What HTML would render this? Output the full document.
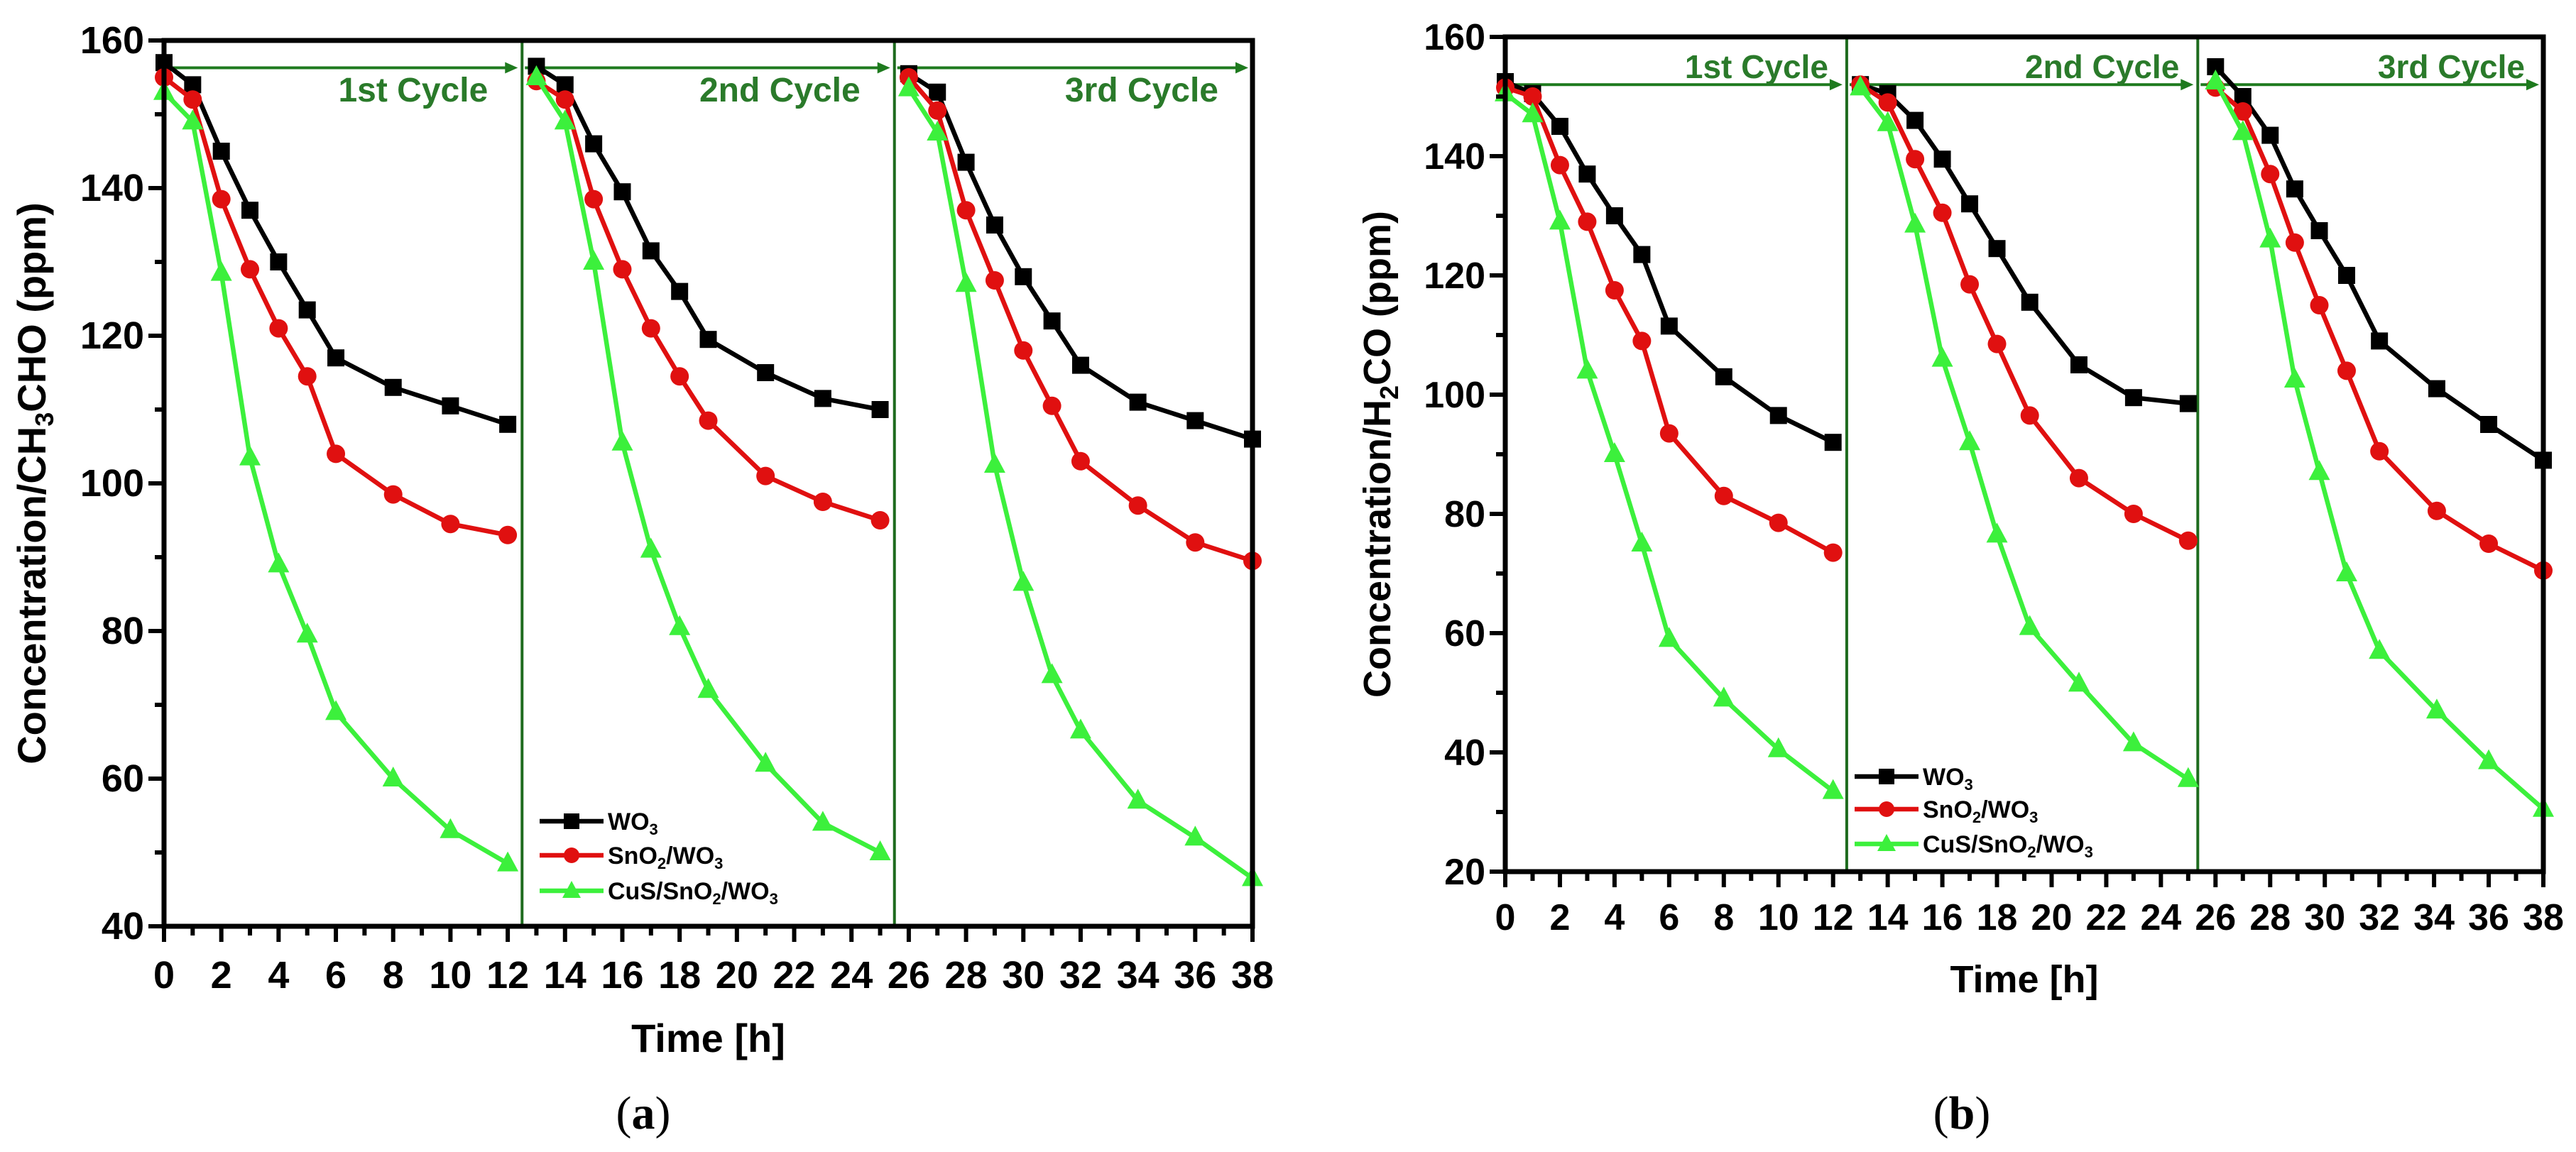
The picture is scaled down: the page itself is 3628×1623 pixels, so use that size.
<!DOCTYPE html>
<html><head><meta charset="utf-8">
<style>
html,body{margin:0;padding:0;background:#fff;}
svg{display:block;font-family:"Liberation Sans",Arial,sans-serif;}
</style></head>
<body>
<svg id="fig" width="3628" height="1623" viewBox="0 0 3628 1623" xmlns="http://www.w3.org/2000/svg"></svg>
<script>
// ---- data ----
const cycle1TimesA = [0,1,2,3,4,5,6,8,10,12];
const cycle2TimesA = [13,14,15,16,17,18,19,21,23,25];
const cycle3TimesA = [26,27,28,29,30,31,32,34,36,38];
const wo3A = [157,154,145,137,130,123.5,117,113,110.5,108, 156.5,154,146,139.5,131.5,126,119.5,115,111.5,110, 155.5,153,143.5,135,128,122,116,111,108.5,106];
const sno2A = [155,152,138.5,129,121,114.5,104,98.5,94.5,93, 154.5,152,138.5,129,121,114.5,108.5,101,97.5,95, 155,150.5,137,127.5,118,110.5,103,97,92,89.5];
const cusA = [153,149,128.5,103.5,89,79.5,69,60,53,48.5, 155,149,130,105.5,91,80.5,72,62,54,50, 153.5,147.5,127,102.5,86.5,74,66.5,57,52,46.5];

const cycle1TimesB = [0,1,2,3,4,5,6,8,10,12];
const cycle2TimesB = [13,14,15,16,17,18,19.2,21,23,25];
const cycle3TimesB = [26,27,28,28.9,29.8,30.8,32,34.1,36,38];
const wo3B = [152.5,150.5,145,137,130,123.5,111.5,103,96.5,92, 152,150.5,146,139.5,132,124.5,115.5,105,99.5,98.5, 155,150,143.5,134.5,127.5,120,109,101,95,89];
const sno2B = [151.5,150,138.5,129,117.5,109,93.5,83,78.5,73.5, 152,149,139.5,130.5,118.5,108.5,96.5,86,80,75.5, 151.5,147.5,137,125.5,115,104,90.5,80.5,75,70.5];
const cusB = [150.5,147,129,104,90,75,59,49,40.5,33.5, 151.5,145.5,128.5,106,92,76.5,61,51.5,41.5,35.5, 152.5,144,126,102.5,87,70,57,47,38.5,30.5];

const xTicks = [0,2,4,6,8,10,12,14,16,18,20,22,24,26,28,30,32,34,36,38];
const yTicksA = [40,60,80,100,120,140,160];
const yTicksB = [20,40,60,80,100,120,140,160];
const cycleLabels = ["1st Cycle","2nd Cycle","3rd Cycle"];
const dividersA = [12.5,25.5];
const dividersB = [12.5,25.35];
const arrowLevelA = 156.3;
const arrowLevelB = 152;

const NS="http://www.w3.org/2000/svg";
const svg=document.getElementById('fig');
function mk(tag,attrs,parent){const e=document.createElementNS(NS,tag);for(const k in attrs)e.setAttribute(k,attrs[k]);(parent||svg).appendChild(e);return e;}

function drawPanel(cfg){
  const g=mk('g',{});
  
  
  const X=v=>cfg.x0+(v-0)*(cfg.x1-cfg.x0)/38;
  const Y=v=>cfg.y1-(v-cfg.ymin)*(cfg.y1-cfg.y0)/(cfg.ymax-cfg.ymin);
  cfg.dividers.forEach((d,i)=>{
    const l=mk('line',{x1:X(d),x2:X(d),y1:cfg.y0,y2:cfg.y1,stroke:'#1e6b1e','stroke-width':4},g);
    
    
  });
  const bounds=[0,cfg.dividers[0],cfg.dividers[1],38];
  for(let i=0;i<3;i++){
    const xa=X(bounds[i])+4, xb=X(bounds[i+1])-6, ya=Y(cfg.arrow);
    const l=mk('line',{x1:xa,x2:xb-10,y1:ya,y2:ya,stroke:'#1e7a1e','stroke-width':4},g);
    
    
    const h=mk('polygon',{points:`${xb},${ya} ${xb-18},${ya-8} ${xb-18},${ya+8}`,fill:'#1e7a1e'},g);
    
    
    const t=mk('text',{x:X(bounds[i+1])-cfg.labelInset,y:cfg.labelY,'text-anchor':'end','font-size':cfg.labelSize,'font-weight':'bold',fill:'#2a7a2a'},g);
    t.textContent=cycleLabels[i];
    
    
  }
  const times=cfg.t1.concat(cfg.t2,cfg.t3);
  const series=[{v:cfg.wo3,c:'#000',m:'sq',n:'wo3'},{v:cfg.sno2,c:'#e01010',m:'ci',n:'sno2-wo3'},{v:cfg.cus,c:'#3cf03c',m:'tr',n:'cus-sno2-wo3'}];
  series.forEach(s=>{
    for(let c=0;c<3;c++){
      const pts=[];
      for(let k=c*10;k<c*10+10;k++)pts.push(X(times[k])+','+Y(s.v[k]));
      const pl=mk('polyline',{points:pts.join(' '),fill:'none',stroke:s.c,'stroke-width':6.5,'stroke-linejoin':'round'},g);
      
      
    }
    for(let k=0;k<times.length;k++){
      const px=X(times[k]),py=Y(s.v[k]);let e;
      if(s.m==='sq')e=mk('rect',{x:px-12,y:py-12,width:24,height:24,fill:s.c},g);
      else if(s.m==='ci')e=mk('circle',{cx:px,cy:py,r:13,fill:s.c},g);
      else e=mk('polygon',{points:`${px},${py-17} ${px-15},${py+11} ${px+15},${py+11}`,fill:s.c},g);
      
      
    }
  });
  const fr=mk('rect',{x:cfg.x0,y:cfg.y0,width:cfg.x1-cfg.x0,height:cfg.y1-cfg.y0,fill:'none',stroke:'#000','stroke-width':7},g);
  
  
  for(let v=0;v<=38;v++){
    const major=v%2===0;
    const l=mk('line',{x1:X(v),x2:X(v),y1:cfg.y1,y2:cfg.y1+(major?22:13),stroke:'#000','stroke-width':6},g);
    
    
  }
  xTicks.forEach(v=>{
    const t=mk('text',{x:X(v),y:cfg.xLabelY,'text-anchor':'middle','font-size':cfg.tickSize,'font-weight':'bold'},g);
    t.textContent=v;
    
    
  });
  for(let v=cfg.ymin;v<=cfg.ymax;v+=10){
    const major=(v%20===0);
    const l=mk('line',{x1:cfg.x0,x2:cfg.x0-(major?22:13),y1:Y(v),y2:Y(v),stroke:'#000','stroke-width':6},g);
    
    
  }
  cfg.yTicks.forEach(v=>{
    const t=mk('text',{x:cfg.x0-28,y:Y(v)+18,'text-anchor':'end','font-size':cfg.tickSize,'font-weight':'bold'},g);
    t.textContent=v;
    
    
  });
  const xt=mk('text',{x:(cfg.x0+cfg.x1)/2,y:cfg.xTitleY,'text-anchor':'middle','font-size':cfg.titleSize,'font-weight':'bold'},g);
  xt.textContent='Time [h]';
  
  
  const yc=(cfg.y0+cfg.y1)/2;
  const yt=mk('text',{x:cfg.yTitleX,y:yc,'text-anchor':'middle','font-size':cfg.titleSize,'font-weight':'bold',transform:`rotate(-90 ${cfg.yTitleX} ${yc})`},g);
  yt.innerHTML=cfg.yTitle;
  
  
  const lg=mk('g',{},g);
  
  
  const names=['WO<tspan baseline-shift="-30%" font-size="22">3</tspan>','SnO<tspan baseline-shift="-30%" font-size="22">2</tspan>/WO<tspan baseline-shift="-30%" font-size="22">3</tspan>','CuS/SnO<tspan baseline-shift="-30%" font-size="22">2</tspan>/WO<tspan baseline-shift="-30%" font-size="22">3</tspan>'];
  series.forEach((s,i)=>{
    const ly=cfg.legY[i];
    const e=mk('g',{},lg);
    
    
    mk('line',{x1:cfg.legX,x2:cfg.legX+90,y1:ly,y2:ly,stroke:s.c,'stroke-width':6.5},e);
    const mx=cfg.legX+45;
    if(s.m==='sq')mk('rect',{x:mx-11,y:ly-11,width:22,height:22,fill:s.c},e);
    else if(s.m==='ci')mk('circle',{cx:mx,cy:ly,r:11,fill:s.c},e);
    else mk('polygon',{points:`${mx},${ly-14} ${mx-13},${ly+10} ${mx+13},${ly+10}`,fill:s.c},e);
    const t=mk('text',{x:cfg.legX+96,y:ly+12,'font-size':34,'font-weight':'bold'},e);
    t.innerHTML=names[i];
  });
  const pl=mk('text',{x:cfg.panelX,y:1590,'text-anchor':'middle','font-size':66,'font-family':'Liberation Serif, serif'},g);
  pl.innerHTML=cfg.panel;
  
  
}

drawPanel({name:'chart-a',x0:231,x1:1764,y0:57,y1:1305,ymin:40,ymax:160,yTicks:yTicksA,
  t1:cycle1TimesA,t2:cycle2TimesA,t3:cycle3TimesA,wo3:wo3A,sno2:sno2A,cus:cusA,
  dividers:dividersA,arrow:arrowLevelA,labelInset:48,labelY:143,labelSize:48,
  xLabelY:1392,tickSize:54,xTitleY:1482,titleSize:56,yTitleX:64,
  yTitle:'Concentration/CH<tspan baseline-shift="-30%" font-size="36">3</tspan>CHO (ppm)',
  legX:760,legY:[1157,1205,1255],panelX:906,panel:'(<tspan font-weight="bold">a</tspan>)'});

drawPanel({name:'chart-b',x0:2120,x1:3582,y0:52,y1:1228,ymin:20,ymax:160,yTicks:yTicksB,
  t1:cycle1TimesB,t2:cycle2TimesB,t3:cycle3TimesB,wo3:wo3B,sno2:sno2B,cus:cusB,
  dividers:dividersB,arrow:arrowLevelB,labelInset:26,labelY:110,labelSize:46,
  xLabelY:1310,tickSize:52,xTitleY:1398,titleSize:54,yTitleX:1958,
  yTitle:'Concentration/H<tspan baseline-shift="-30%" font-size="36">2</tspan>CO (ppm)',
  legX:2612,legY:[1094,1140,1189],panelX:2763,panel:'(<tspan font-weight="bold">b</tspan>)'});
</script>
</body></html>
